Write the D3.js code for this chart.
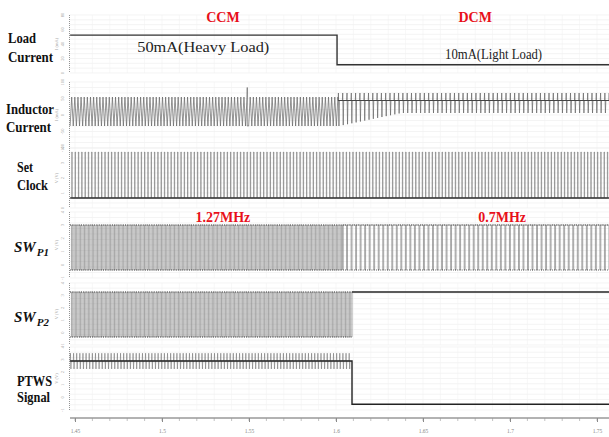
<!DOCTYPE html>
<html><head><meta charset="utf-8">
<script src="https://cdn.jsdelivr.net/npm/d3@7"></script>
<style>html,body{margin:0;padding:0;background:#fff;}svg{display:block;}</style>
</head><body>
<svg id="chart" width="609" height="437"></svg>
<script>
// ---------- data ----------
const xTicks = [1.45, 1.5, 1.55, 1.6, 1.65, 1.7, 1.75];
const xTickLabels = ["1.45", "1.5", "1.55", "1.6", "1.65", "1.7", "1.75"];
const timeRange = [1.4472, 1.7569];

const panelNames = ["Load Current", "Inductor Current", "Set Clock", "SWP1", "SWP2", "PTWS Signal"];
const yTickLabels = [
  ["0", "20", "40", "60", "80"],
  ["-100", "-50", "0", "50", "100"],
  ["0", "1", "2", "3", "4"],
  ["-1", "0", "1", "2", "3", "4"],
  ["-1", "0", "1", "2", "3", "4"],
  ["-1", "0", "1", "2", "3", "4"]
];

// load current (mA): step from heavy to light load
const loadTimes = [1.4472, 1.6006, 1.6006, 1.7569];
const loadValues = [50, 50, 10, 10];

// switching segments: [start, end, period, duty]
const inductorCCM = [[1.4472, 1.6012, 0.0018]];
const inductorCCMLevels = [7, -51];           // peak, valley (mA)
const inductorDCM = [[1.6012, 1.7569, 0.00247]];
const inductorDCMLevels = [15, 0];            // peak, baseline
const inductorValleyStart = [1.6012, -51];
const inductorValleyEnd = [1.637, -25];
const inductorGlitch = [1.549, 26];

const clockSegments = [[1.4472, 1.7569, 0.0019]];
const clockLevels = [1, 0];

const swP1Segments = [[1.4472, 1.6040, 0.0015, 0.5], [1.6040, 1.7569, 0.0026, 0.8]];
const swP2Segments = [[1.4472, 1.6092, 0.0015, 0.5]];
const swP2After = [[1.6092, 1], [1.7569, 1]];
const swLevels = [1, 0];

const ptwsSegments = [[1.4472, 1.6092, 0.0018]];
const ptwsLevels = [1.07, 0.907, 0.74];       // top, mid, bottom
const ptwsAfter = [[1.6092, 0], [1.7569, 0]];

const titles = [{text: "CCM", t: 1.535}, {text: "DCM", t: 1.6800}];
const freqLabels = [{text: "1.27MHz", t: 1.535}, {text: "0.7MHz", t: 1.6955}];
const loadNotes = [{text: "50mA(Heavy Load)", t: 1.4858}, {text: "10mA(Light Load)", t: 1.6627}];

// ---------- layout ----------
const svg = d3.select("#chart");
const x = d3.scaleLinear().domain([1.45, 1.75]).range([75, 597]);
const panels = [
  {top: 15, bot: 73, dom: [-1, 77]},
  {top: 82, bot: 148, dom: [-95, 37]},
  {top: 148, bot: 208, dom: [-0.217, 1.087]},
  {top: 212, bot: 278, dom: [-0.178, 1.289]},
  {top: 283, bot: 345, dom: [-0.178, 1.2]},
  {top: 347, bot: 410, dom: [-0.12, 1.2]}
];
panels.forEach(p => p.y = d3.scaleLinear().domain(p.dom).range([p.bot, p.top]));

const serif = "'Liberation Serif','Times New Roman',serif";

// grid
const grid = svg.append("g");
const minorTicks = d3.range(1.45, 1.7569, 0.01);
panels.forEach(p => {
  const hs = d3.range(0, 13).map(i => p.top + (p.bot - p.top) * i / 12);
  grid.selectAll(null).data(hs).join("line")
    .attr("x1", 70).attr("x2", 609).attr("y1", d => d).attr("y2", d => d)
    .attr("stroke", "#ececec").attr("stroke-width", 0.6);
  grid.selectAll(null).data(minorTicks).join("line")
    .attr("x1", d => x(d)).attr("x2", d => x(d)).attr("y1", p.top).attr("y2", p.bot)
    .attr("stroke", "#f1f1f1").attr("stroke-width", 0.6);
});

// left axes per panel
panels.forEach((p, i) => {
  svg.append("line").attr("x1", 69.5).attr("x2", 69.5).attr("y1", p.top).attr("y2", p.bot)
    .attr("stroke", "#777").attr("stroke-width", 0.8).attr("stroke-dasharray", "1,1");
  const labs = yTickLabels[i];
  labs.forEach((l, k) => {
    const yy = p.bot - (p.bot - p.top) * k / (labs.length - 1);
    svg.append("text").attr("transform", `translate(64,${yy}) rotate(-90)`)
      .attr("text-anchor", "middle").attr("font-size", 4.5).attr("fill", "#999")
      .attr("font-family", serif).text(l);
  });
  svg.append("text").attr("transform", `translate(58,${(p.top + p.bot) / 2}) rotate(-90)`)
    .attr("text-anchor", "middle").attr("font-size", 4.5).attr("fill", "#aaa")
    .attr("font-family", serif).text(i < 2 ? "I (mA)" : "V (V)");
});

// x axis
const xAxis = d3.axisBottom(x).tickValues(xTicks).tickFormat((d, i) => xTickLabels[i]).tickSize(4);
const gx = svg.append("g").attr("transform", "translate(0,418)").call(xAxis);
gx.select(".domain").attr("d", "M70,0H609").attr("stroke", "#666");
gx.selectAll(".tick line").attr("stroke", "#888");
gx.selectAll(".tick text").attr("font-size", 5.5).attr("fill", "#888").attr("dy", 8).attr("font-family", serif);
svg.append("g").selectAll("line").data(minorTicks).join("line")
  .attr("x1", d => x(d)).attr("x2", d => x(d)).attr("y1", 418).attr("y2", 421)
  .attr("stroke", "#999").attr("stroke-width", 0.6);

// helpers
const lineGen = (ys) => d3.line().x(d => x(d[0])).y(d => ys(d[1]));
function squareWave(segs, hi, lo) {
  const pts = [];
  segs.forEach(([s, e, per, duty]) => {
    for (let t = s; t < e; t += per) {
      const m = Math.min(t + per * duty, e), n = Math.min(t + per, e);
      pts.push([t, hi], [m, hi], [m, lo], [n, lo]);
    }
  });
  return pts;
}
function edgeDots(segs, level, panel) {
  segs.forEach(([s, e]) => {
    svg.append("path").datum([[s, level], [e, level]]).attr("d", lineGen(panel.y))
      .attr("fill", "none").attr("stroke", "#333").attr("stroke-width", 1.1)
      .attr("stroke-dasharray", "0.8,1.4");
  });
}

const P = panels;
// Panel 1: load current
svg.append("path").datum(d3.zip(loadTimes, loadValues))
  .attr("d", lineGen(P[0].y)).attr("fill", "none").attr("stroke", "#333").attr("stroke-width", 1.4);

// Panel 2: inductor current
(function () {
  const pts = [];
  inductorCCM.forEach(([s, e, per]) => {
    for (let t = s; t < e; t += per) {
      pts.push([t, inductorCCMLevels[1]], [Math.min(t + per * 0.5, e), inductorCCMLevels[0]]);
      if (t < inductorGlitch[0] && t + per >= inductorGlitch[0]) pts.push([inductorGlitch[0], inductorGlitch[1]], [inductorGlitch[0], inductorCCMLevels[1]]);
    }
  });
  const valley = d3.scaleLinear().domain([inductorValleyStart[0], inductorValleyEnd[0]])
    .range([inductorValleyStart[1], inductorValleyEnd[1]]).clamp(true);
  inductorDCM.forEach(([s, e, per]) => {
    for (let t = s; t < e; t += per) {
      pts.push([t, inductorDCMLevels[1]], [t + per * 0.08, inductorDCMLevels[0]],
               [t + per * 0.2, valley(t)], [t + per * 0.3, inductorDCMLevels[1]]);
    }
  });
  svg.append("path").datum(pts).attr("d", lineGen(P[1].y))
    .attr("fill", "none").attr("stroke", "#666").attr("stroke-width", 0.7);
  svg.append("path").datum([[inductorDCM[0][0], 0], [inductorDCM[0][1], 0]]).attr("d", lineGen(P[1].y))
    .attr("fill", "none").attr("stroke", "#444").attr("stroke-width", 1);
})();

// Panel 3: set clock
(function () {
  const pts = [];
  clockSegments.forEach(([s, e, per]) => {
    for (let t = s + per * 0.5; t < e; t += per) {
      pts.push([t, clockLevels[1]], [t, clockLevels[0]], [t + per * 0.12, clockLevels[0]], [t + per * 0.12, clockLevels[1]]);
    }
  });
  svg.append("path").datum(pts).attr("d", lineGen(P[2].y))
    .attr("fill", "none").attr("stroke", "#777").attr("stroke-width", 0.6);
  svg.append("path").datum([[timeRange[0], 0], [timeRange[1], 0]]).attr("d", lineGen(P[2].y))
    .attr("fill", "none").attr("stroke", "#333").attr("stroke-width", 1.4);
})();

// Panel 4: SW_P1
svg.append("path").datum(squareWave(swP1Segments, swLevels[0], swLevels[1])).attr("d", lineGen(P[3].y))
  .attr("fill", "none").attr("stroke", "#7a7a7a").attr("stroke-width", 0.65);
edgeDots(swP1Segments, swLevels[0], P[3]);
edgeDots(swP1Segments, swLevels[1], P[3]);

// Panel 5: SW_P2
svg.append("path").datum(squareWave(swP2Segments, swLevels[0], swLevels[1]).concat(swP2After)).attr("d", lineGen(P[4].y))
  .attr("fill", "none").attr("stroke", "#7a7a7a").attr("stroke-width", 0.65);
edgeDots(swP2Segments, swLevels[0], P[4]);
edgeDots(swP2Segments, swLevels[1], P[4]);
svg.append("path").datum(swP2After).attr("d", lineGen(P[4].y))
  .attr("fill", "none").attr("stroke", "#333").attr("stroke-width", 1.4);

// Panel 6: PTWS
(function () {
  const pts = [];
  ptwsSegments.forEach(([s, e, per]) => {
    for (let t = s; t < e; t += per) {
      pts.push([t, ptwsLevels[1]], [t + per * 0.1, ptwsLevels[0]], [t + per * 0.25, ptwsLevels[2]], [t + per * 0.35, ptwsLevels[1]]);
    }
  });
  svg.append("path").datum(pts).attr("d", lineGen(P[5].y))
    .attr("fill", "none").attr("stroke", "#777").attr("stroke-width", 0.6);
  svg.append("path").datum([[timeRange[0], ptwsLevels[1]], [ptwsSegments[0][1], ptwsLevels[1]]].concat(ptwsAfter))
    .attr("d", lineGen(P[5].y)).attr("fill", "none").attr("stroke", "#222").attr("stroke-width", 1.4);
})();

// ---------- text ----------
const labelDefs = [
  {t: "Load", x: 8, y: 43, w: 28}, {t: "Current", x: 8, y: 62, w: 45},
  {t: "Inductor", x: 6, y: 114, w: 48}, {t: "Current", x: 6, y: 132, w: 45},
  {t: "Set", x: 17, y: 172, w: 16}, {t: "Clock", x: 17, y: 190, w: 31},
  {t: "PTWS", x: 17, y: 386, w: 35}, {t: "Signal", x: 17, y: 402, w: 33}
];
labelDefs.forEach(d => svg.append("text").attr("x", d.x).attr("y", d.y)
  .attr("font-family", serif).attr("font-weight", "bold").attr("font-size", 14.5)
  .attr("textLength", d.w).attr("lengthAdjust", "spacingAndGlyphs").attr("fill", "#111").text(d.t));

[{y: 252, sub: "P1"}, {y: 322, sub: "P2"}].forEach(d => {
  const t = svg.append("text").attr("x", 14).attr("y", d.y).attr("font-family", serif)
    .attr("font-weight", "bold").attr("font-style", "italic").attr("fill", "#111");
  t.append("tspan").attr("font-size", 15).text("SW");
  t.append("tspan").attr("font-size", 11).attr("dy", 4).attr("dx", 1).text(d.sub);
});

svg.selectAll(null).data(titles).join("text")
  .attr("x", d => x(d.t)).attr("y", 22).attr("text-anchor", "middle")
  .attr("font-family", serif).attr("font-weight", "bold").attr("font-size", 14)
  .attr("fill", "#e8101a").text(d => d.text);
svg.selectAll(null).data(freqLabels).join("text")
  .attr("x", d => x(d.t)).attr("y", 222).attr("text-anchor", "middle")
  .attr("font-family", serif).attr("font-weight", "bold").attr("font-size", 14)
  .attr("fill", "#e8101a").text(d => d.text);
svg.selectAll(null).data(loadNotes).join("text")
  .attr("x", d => x(d.t)).attr("y", (d, i) => i === 0 ? 52 : 59)
  .attr("font-family", serif).attr("font-size", 14).attr("fill", "#222")
  .attr("textLength", (d, i) => i === 0 ? 132 : 97).attr("lengthAdjust", "spacingAndGlyphs")
  .text(d => d.text);
</script>
</body></html>
